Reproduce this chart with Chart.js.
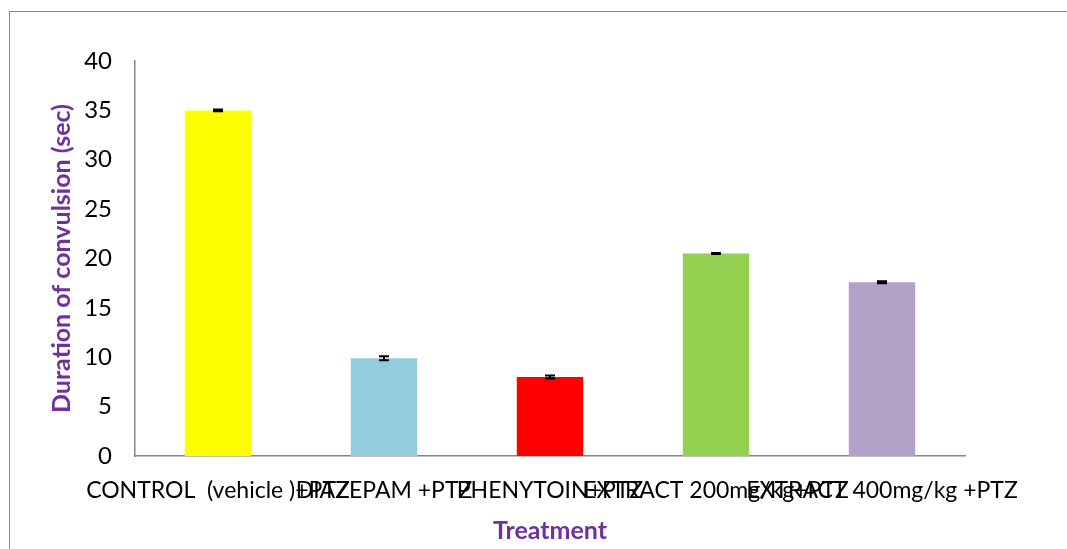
<!DOCTYPE html>
<html>
<head>
<meta charset="utf-8">
<title>Duration of convulsion</title>
<script src="https://cdn.jsdelivr.net/npm/chart.js@4.4.1/dist/chart.umd.min.js"></script>
<style>
  html, body { margin: 0; padding: 0; background: #fff; }
  #wrap { position: relative; width: 1067px; height: 549px; overflow: hidden; }
  #frame {
    position: absolute; left: 9px; top: 11px; right: -5px; bottom: -5px;
    border-left: 1.5px solid #8a8a8a; border-top: 1.5px solid #8a8a8a;
  }
  #chart { position: absolute; left: 0; top: 0; }
</style>
</head>
<body>
<div id="wrap">
  <div id="frame"></div>
  <canvas id="chart" width="1067" height="549"></canvas>
</div>
<script>
// ---- data ----
const treatments = [
  'CONTROL  (vehicle )+PTZ',
  'DIAZEPAM +PTZ',
  'PHENYTOIN+PTZ',
  'EXTRACT 200mg/kg+PTZ',
  'EXTRACT 400mg/kg +PTZ'
];
const durations = [35.0, 9.9, 8.0, 20.5, 17.6];
const errors = [0.1, 0.2, 0.15, 0.05, 0.1];
const barColors = ['#FFFF00', '#93CDDD', '#FF0000', '#92D050', '#B3A2C7'];
const yTicks = [0, 5, 10, 15, 20, 25, 30, 35, 40];

const purple = '#7030A0';
const axisGray = '#868686';
const fontFamily = "Lato, 'DejaVu Sans', sans-serif";

// error bars drawn through the y scale
const errorBars = {
  id: 'errorBars',
  afterDatasetsDraw(chart) {
    const { ctx, scales } = chart;
    const meta = chart.getDatasetMeta(0);
    ctx.save();
    ctx.strokeStyle = '#000';
    ctx.lineWidth = 2;
    meta.data.forEach((bar, i) => {
      const hi = scales.y.getPixelForValue(durations[i] + errors[i]);
      const lo = scales.y.getPixelForValue(durations[i] - errors[i]);
      const x = bar.x;
      ctx.beginPath();
      ctx.moveTo(x, hi); ctx.lineTo(x, lo);
      ctx.moveTo(x - 5, hi); ctx.lineTo(x + 5, hi);
      ctx.moveTo(x - 5, lo); ctx.lineTo(x + 5, lo);
      ctx.stroke();
    });
    ctx.restore();
  }
};

new Chart(document.getElementById('chart'), {
  type: 'bar',
  data: {
    labels: treatments,
    datasets: [{
      data: durations,
      backgroundColor: barColors,
      borderWidth: 0,
      barPercentage: 0.4,
      categoryPercentage: 1.0
    }]
  },
  options: {
    responsive: false,
    animation: false,
    layout: { padding: { left: 45, top: 61, right: 102, bottom: 0 } },
    plugins: {
      legend: { display: false },
      tooltip: { enabled: false }
    },
    scales: {
      x: {
        grid: { display: false, drawTicks: false },
        border: { display: true, color: axisGray, width: 1.5 },
        ticks: {
          color: '#000',
          font: { family: fontFamily, size: 23 },
          padding: 21,
          autoSkip: false,
          maxRotation: 0,
          minRotation: 0
        },
        title: {
          display: true,
          text: 'Treatment',
          color: purple,
          font: { family: fontFamily, size: 25, weight: 'bold' },
          padding: { top: 0, bottom: 3 }
        },
        afterFit(scale) {
          scale.height = 93;
          scale.paddingLeft = 0;
          scale.paddingRight = 0;
        }
      },
      y: {
        min: 0,
        max: 40,
        afterBuildTicks(scale) {
          scale.ticks = yTicks.map(v => ({ value: v }));
        },
        grid: { display: false, drawTicks: false },
        border: { display: true, color: axisGray, width: 1.5 },
        ticks: {
          color: '#000',
          font: { family: fontFamily, size: 24 },
          padding: 23
        },
        title: {
          display: true,
          text: 'Duration of convulsion (sec)',
          color: purple,
          font: { family: fontFamily, size: 25, weight: 'bold' },
          padding: { top: 2, bottom: 0 }
        },
        afterFit(scale) {
          scale.width = 90;
          scale.paddingTop = 0;
          scale.paddingBottom = 0;
        }
      }
    }
  },
  plugins: [errorBars]
});
</script>
</body>
</html>
